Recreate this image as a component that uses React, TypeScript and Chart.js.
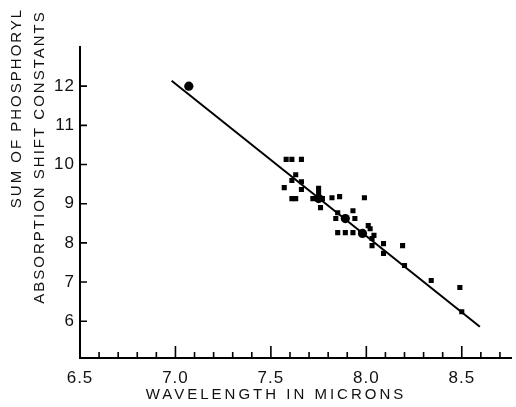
import React, { useEffect, useRef } from "react";
import { Chart, registerables } from "chart.js";

Chart.register(...registerables);

// Small square markers (wavelength in microns, sum of shift constants)
const smallX = [
  7.58, 7.61, 7.66, 7.63, 7.61, 7.66, 7.57, 7.66, 7.61, 7.63,
  7.75, 7.75, 7.72, 7.77, 7.82, 7.86, 7.99, 7.76, 7.85, 7.93,
  7.84, 7.94, 7.85, 7.89, 7.93, 7.97, 8.01, 8.02, 8.03, 8.04,
  8.03, 8.09, 8.09, 8.19, 8.2, 8.34, 8.49, 8.5,
];
const smallY = [
  10.13, 10.13, 10.13, 9.74, 9.59, 9.56, 9.41, 9.36, 9.13, 9.13,
  9.39, 9.26, 9.13, 9.13, 9.15, 9.18, 9.15, 8.9, 8.77, 8.82,
  8.62, 8.62, 8.26, 8.26, 8.26, 8.26, 8.44, 8.36, 8.11, 8.19,
  7.93, 7.98, 7.73, 7.93, 7.42, 7.04, 6.86, 6.24,
];
// Large round markers
const bigX = [7.07, 7.75, 7.89, 7.98];
const bigY = [12.0, 9.13, 8.62, 8.24];
// Fitted straight line
const fitX = [6.98, 8.595];
const fitY = [12.14, 5.86];

const xMajorTicks = [6.5, 7.0, 7.5, 8.0, 8.5];
const xMinorTicks = [
  6.6, 6.7, 6.8, 6.9, 7.1, 7.2, 7.3, 7.4, 7.6, 7.7, 7.8, 7.9,
  8.1, 8.2, 8.3, 8.4, 8.6, 8.7,
];
const yTicks = [6, 7, 8, 9, 10, 11, 12];

const xTitle = "WAVELENGTH IN MICRONS";
const yTitle1 = "SUM OF PHOSPHORYL";
const yTitle2 = "ABSORPTION SHIFT CONSTANTS";

const FONT = '"Liberation Sans", Arial, Helvetica, sans-serif';

const decorPlugin = {
  id: "decor",
  beforeDraw(chart: any) {
    (chart.ctx as any).letterSpacing = "1px";
  },
  afterDraw(chart: any) {
    const { ctx, chartArea, scales } = chart;
    const xs = scales.x;
    const ys = scales.y;
    ctx.save();
    (ctx as any).letterSpacing = "0px";
    ctx.strokeStyle = "#000";
    ctx.lineWidth = 1.6;
    ctx.beginPath();
    xMajorTicks.forEach((v) => {
      const px = xs.getPixelForValue(v);
      ctx.moveTo(px, chartArea.bottom);
      ctx.lineTo(px, chartArea.bottom - 12);
    });
    xMinorTicks.forEach((v) => {
      const px = xs.getPixelForValue(v);
      ctx.moveTo(px, chartArea.bottom);
      ctx.lineTo(px, chartArea.bottom - 6);
    });
    yTicks.forEach((v) => {
      const py = ys.getPixelForValue(v);
      ctx.moveTo(chartArea.left, py);
      ctx.lineTo(chartArea.left + 7, py);
    });
    ctx.stroke();

    ctx.fillStyle = "#111";
    ctx.textAlign = "center";
    ctx.textBaseline = "middle";
    ctx.font = `15px ${FONT}`;
    (ctx as any).letterSpacing = "3px";
    ctx.fillText(xTitle, 276, 395);

    (ctx as any).letterSpacing = "2px";
    ctx.save();
    ctx.translate(17, 108);
    ctx.rotate(-Math.PI / 2);
    ctx.fillText(yTitle1, 0, 0);
    ctx.restore();
    ctx.save();
    ctx.translate(40, 157);
    ctx.rotate(-Math.PI / 2);
    ctx.fillText(yTitle2, 0, 0);
    ctx.restore();

    ctx.restore();
    (chart.ctx as any).letterSpacing = "0px";
  },
};

export default function App() {
  const ref = useRef<HTMLCanvasElement | null>(null);

  useEffect(() => {
    if (!ref.current) return;
    const small = smallX.map((x, i) => ({ x, y: smallY[i] }));
    const big = bigX.map((x, i) => ({ x, y: bigY[i] }));
    const fit = fitX.map((x, i) => ({ x, y: fitY[i] }));

    const chart = new Chart(ref.current, {
      type: "scatter",
      data: {
        datasets: [
          {
            type: "line",
            data: fit,
            borderColor: "#000",
            borderWidth: 2,
            pointRadius: 0,
            showLine: true,
            fill: false,
          } as any,
          {
            data: small,
            pointStyle: "rect",
            pointRadius: 3.6,
            backgroundColor: "#000",
            borderColor: "#000",
            borderWidth: 0,
          },
          {
            data: big,
            pointStyle: "circle",
            pointRadius: 4.6,
            backgroundColor: "#000",
            borderColor: "#000",
            borderWidth: 0,
          },
        ],
      },
      options: {
        responsive: false,
        animation: false,
        events: [],
        layout: { padding: { left: 0, top: 47, right: 4, bottom: 0 } },
        plugins: {
          legend: { display: false },
          tooltip: { enabled: false },
        },
        scales: {
          x: {
            type: "linear",
            min: 6.5,
            max: 8.76,
            afterFit: (s: any) => {
              s.height = 49;
            },
            afterBuildTicks: (s: any) => {
              s.ticks = xMajorTicks.map((v) => ({ value: v }));
            },
            grid: { display: true, drawOnChartArea: false, drawTicks: false },
            border: { display: true, color: "#000", width: 2 },
            ticks: {
              padding: 10,
              color: "#111",
              font: { family: FONT, size: 17 },
              callback: (v: any) => Number(v).toFixed(1),
            },
          },
          y: {
            type: "linear",
            min: 5.06,
            max: 13,
            afterFit: (s: any) => {
              s.width = 80;
            },
            afterBuildTicks: (s: any) => {
              s.ticks = yTicks.map((v) => ({ value: v }));
            },
            grid: { display: true, drawOnChartArea: false, drawTicks: false },
            border: { display: true, color: "#000", width: 2 },
            ticks: {
              padding: 5,
              color: "#111",
              font: { family: FONT, size: 17 },
              callback: (v: any) => String(v),
            },
          },
        },
      },
      plugins: [decorPlugin],
    });
    return () => chart.destroy();
  }, []);

  return (
    <div style={{ position: "absolute", left: 0, top: 0, width: 516, height: 407, background: "#fff" }}>
      <canvas ref={ref} width={516} height={407} style={{ width: 516, height: 407 }} />
    </div>
  );
}
